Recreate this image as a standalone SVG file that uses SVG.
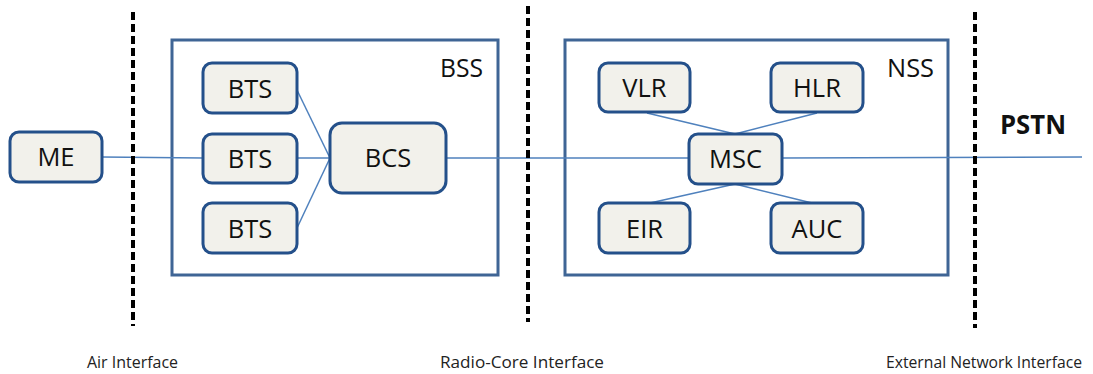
<svg xmlns="http://www.w3.org/2000/svg" width="1093" height="374" viewBox="0 0 1093 374">
<style>
.node rect{fill:#f2f1eb;stroke:#24508a;stroke-width:3}
.node text{font-family:"Open Sans","DejaVu Sans",sans-serif;font-size:25.5px;fill:#111;text-anchor:middle}
.sys rect{fill:#fff;stroke:#3f6595;stroke-width:3}
.sys text{font-family:"Open Sans","DejaVu Sans",sans-serif;font-size:26px;fill:#111}
.conn line{stroke:#4f81bd;stroke-width:1.5}
.dash{stroke:#000;stroke-width:4;stroke-dasharray:8,4}
.lbl{font-family:"Open Sans","Liberation Sans",sans-serif;font-size:16px;fill:#222}
</style>
<rect width="1093" height="374" fill="#fff"/>
<g id="BSS" class="sys"><rect x="172" y="40" width="326" height="235"/><text x="440" y="77" textLength="43" lengthAdjust="spacingAndGlyphs">BSS</text></g>
<g id="NSS" class="sys"><rect x="565" y="40" width="383" height="235"/><text x="887" y="77" textLength="47" lengthAdjust="spacingAndGlyphs">NSS</text></g>
<g id="connectors" class="conn">
<line x1="102" y1="157" x2="203" y2="158"/>
<line x1="297" y1="158" x2="330" y2="158"/>
<line x1="296" y1="88" x2="330" y2="158"/>
<line x1="297" y1="228" x2="330" y2="158"/>
<line x1="446" y1="158" x2="689" y2="158"/>
<line x1="782" y1="158" x2="1082" y2="157"/>
<line x1="647" y1="113" x2="735" y2="134"/>
<line x1="817" y1="113" x2="735" y2="134"/>
<line x1="650" y1="203" x2="735" y2="184"/>
<line x1="812" y1="203" x2="735" y2="184"/>
</g>
<g id="dividers">
<line class="dash" x1="133" y1="12" x2="133" y2="326"/>
<line class="dash" x1="528" y1="6" x2="528" y2="322"/>
<line class="dash" x1="975" y1="12" x2="975" y2="328"/>
</g>
<g id="ME" class="node"><rect x="10" y="132" width="92" height="50" rx="9"/><text x="56" y="166">ME</text></g>
<g id="BTS1" class="node"><rect x="203" y="63" width="94" height="50" rx="9"/><text x="250" y="98">BTS</text></g>
<g id="BTS2" class="node"><rect x="203" y="134" width="94" height="49" rx="9"/><text x="250" y="168">BTS</text></g>
<g id="BTS3" class="node"><rect x="203" y="203" width="94" height="50" rx="9"/><text x="250" y="238">BTS</text></g>
<g id="BCS" class="node"><rect x="330" y="123" width="116" height="70" rx="12"/><text x="388" y="167">BCS</text></g>
<g id="VLR" class="node"><rect x="599" y="63" width="91" height="49" rx="9"/><text x="644.5" y="97">VLR</text></g>
<g id="HLR" class="node"><rect x="771" y="63" width="92" height="49" rx="9"/><text x="817" y="97">HLR</text></g>
<g id="MSC" class="node"><rect x="689" y="134" width="93" height="50" rx="9"/><text x="735.5" y="168">MSC</text></g>
<g id="EIR" class="node"><rect x="599" y="203" width="91" height="50" rx="9"/><text x="644.5" y="238">EIR</text></g>
<g id="AUC" class="node"><rect x="771" y="203" width="92" height="50" rx="9"/><text x="817" y="238">AUC</text></g>
<text x="1000" y="134" font-family="Open Sans, DejaVu Sans, sans-serif" font-size="26" font-weight="bold" fill="#111" textLength="66" lengthAdjust="spacingAndGlyphs">PSTN</text>
<text class="lbl" x="87" y="368" textLength="91" lengthAdjust="spacingAndGlyphs">Air Interface</text>
<text class="lbl" x="440" y="368" textLength="164" lengthAdjust="spacingAndGlyphs">Radio-Core Interface</text>
<text class="lbl" x="886" y="368" textLength="196" lengthAdjust="spacingAndGlyphs">External Network Interface</text>
</svg>
